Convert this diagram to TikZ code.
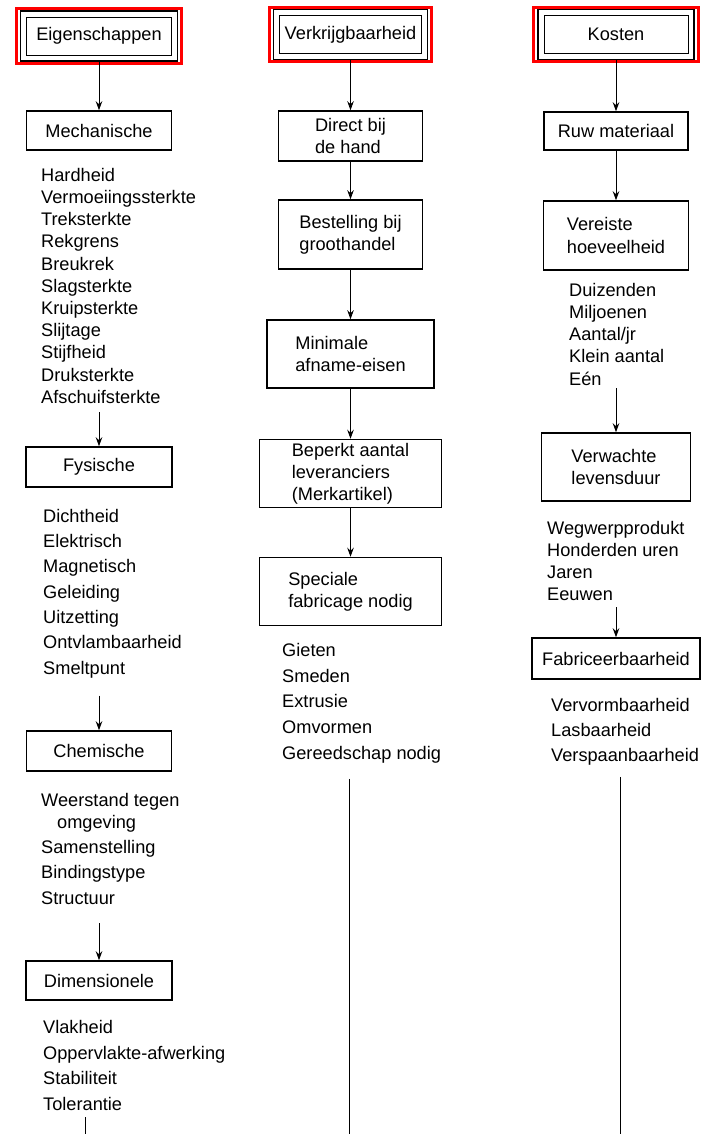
\documentclass[tikz,border=0pt]{standalone}
\usepackage{fontspec}
\setmainfont{Liberation Sans}
\usetikzlibrary{arrows.meta,fit}

\tikzset{
  kop/.style={draw, line width=0.9pt, minimum width=145pt, minimum height=38pt},
  blok/.style={draw, line width=1.5pt, align=left, inner sep=0pt},
  lijst/.style={align=left, anchor=north west, inner sep=0pt},
  pijl/.style={line width=0.9pt, -{Stealth[length=9pt,width=6.5pt]}},
}

\begin{document}
\begin{tikzpicture}[x=1pt, y=-1pt, font=\fontsize{18.2}{22.2}\selectfont]
	\useasboundingbox (0,0) rectangle (712,1134);

	% kopjes
	\node[kop] (eig) at (99,36) {Eigenschappen};
	\node[kop, minimum width=142pt] (verk) at (350.5,34.5) {Verkrijgbaarheid};
	\node[kop, minimum width=144pt] (kost) at (616,34.5) {Kosten};
	\foreach \k in {eig,verk,kost} {
		\node[fit=(\k), inner sep=5.5pt, draw, line width=1.8pt] (\k rand) {};
		\node[fit=(\k), inner xsep=10pt, inner ysep=8pt, draw=red, line width=3pt] (\k rood) {};
	}

	% Eigenschappen
	\node[blok, minimum width=145pt, minimum height=39pt] (mech) at (99,130.5) {Mechanische};
	\node[lijst] (mechlist) at (41,168) {Hardheid\\Vermoeiingssterkte\\Treksterkte\\Rekgrens\\Breukrek\\Slagsterkte\\Kruipsterkte\\Slijtage\\Stijfheid\\Druksterkte\\Afschuifsterkte};
	\node[blok, minimum width=146pt, minimum height=40pt] (fys) at (99,467) {Fysische};
	\node[lijst, font=\fontsize{18.2}{25.3}\selectfont] (fyslist) at (43,509) {Dichtheid\\Elektrisch\\Magnetisch\\Geleiding\\Uitzetting\\Ontvlambaarheid\\Smeltpunt};
	\node[blok, minimum width=145pt, minimum height=40pt] (chem) at (99,751) {Chemische};
	\node[lijst, font=\fontsize{18.2}{25.3}\selectfont] (chemlist) at (41,793) {Weerstand tegen\\[-3.3pt]\hspace{16pt}omgeving\\Samenstelling\\Bindingstype\\Structuur};
	\node[blok, minimum width=146pt, minimum height=39pt] (dim) at (99,980.5) {Dimensionele};
	\node[lijst, font=\fontsize{18.2}{25.7}\selectfont] (dimlist) at (43,1020) {Vlakheid\\Oppervlakte-afwerking\\Stabiliteit\\Tolerantie};
	\coordinate (eind1) at (85,1134);

	\draw[pijl] (eigrand) -- (mech);
	\draw[pijl, shorten <=8.5pt] (mechlist.south -| fys) -- (fys);
	\draw[pijl, shorten <=17.5pt] (fyslist.south -| chem) -- (chem);
	\draw[pijl, shorten <=18.5pt] (chemlist.south -| dim) -- (dim);
	\draw[line width=0.9pt, shorten <=6.5pt] (dimlist.south -| eind1) -- (eind1);

	% Verkrijgbaarheid
	\node[blok, minimum width=144pt, minimum height=50pt] (direct) at (350.5,136) {Direct bij\\de hand};
	\node[blok, minimum width=144pt, minimum height=69pt] (best) at (350.5,234.5) {Bestelling bij\\groothandel};
	\node[blok, minimum width=167pt, minimum height=68pt] (mini) at (350.5,354) {Minimale\\afname-eisen};
	\node[blok, minimum width=182pt, minimum height=68pt] (bep) at (350.5,473.5) {Beperkt aantal\\leveranciers\\(Merkartikel)};
	\node[blok, minimum width=182pt, minimum height=68pt] (spec) at (350.5,591.5) {Speciale\\fabricage nodig};
	\node[lijst, font=\fontsize{18.2}{25.75}\selectfont] (speclist) at (282,643) {Gieten\\Smeden\\Extrusie\\Omvormen\\Gereedschap nodig};
	\coordinate (eind2) at (349,1134);

	\draw[pijl] (verkrand) -- (direct);
	\draw[pijl] (direct) -- (best);
	\draw[pijl] (best) -- (mini);
	\draw[pijl] (mini) -- (bep);
	\draw[pijl] (bep) -- (spec);
	\draw[line width=0.9pt, shorten <=15.5pt] (speclist.south -| eind2) -- (eind2);

	% Kosten
	\node[blok, minimum width=144pt, minimum height=38pt] (ruw) at (616,131) {Ruw materiaal};
	\node[blok, minimum width=145pt, minimum height=69pt] (ver) at (616,235.5) {Vereiste\\hoeveelheid};
	\node[lijst] (verlist) at (569,283) {Duizenden\\Miljoenen\\Aantal/jr\\Klein aantal\\Eén};
	\node[blok, minimum width=149pt, minimum height=68pt] (verw) at (616,467) {Verwachte\\levensduur};
	\node[lijst, font=\fontsize{18.2}{22}\selectfont] (verwlist) at (547,521) {Wegwerpprodukt\\Honderden uren\\Jaren\\Eeuwen};
	\node[blok, minimum width=168pt, minimum height=41pt] (fab) at (616,658.5) {Fabriceerbaarheid};
	\node[lijst, font=\fontsize{18.2}{25}\selectfont] (fablist) at (551,698) {Vervormbaarheid\\Lasbaarheid\\Verspaanbaarheid};
	\coordinate (eind3) at (620,1134);

	\draw[pijl] (kostrand) -- (ruw);
	\draw[pijl] (ruw) -- (ver);
	\draw[pijl, shorten <=2.5pt] (verlist.south -| verw) -- (verw);
	\draw[pijl, shorten <=6.5pt] (verwlist.south -| fab) -- (fab);
	\draw[line width=0.9pt, shorten <=11.5pt] (fablist.south -| eind3) -- (eind3);

\end{tikzpicture}
\end{document}
